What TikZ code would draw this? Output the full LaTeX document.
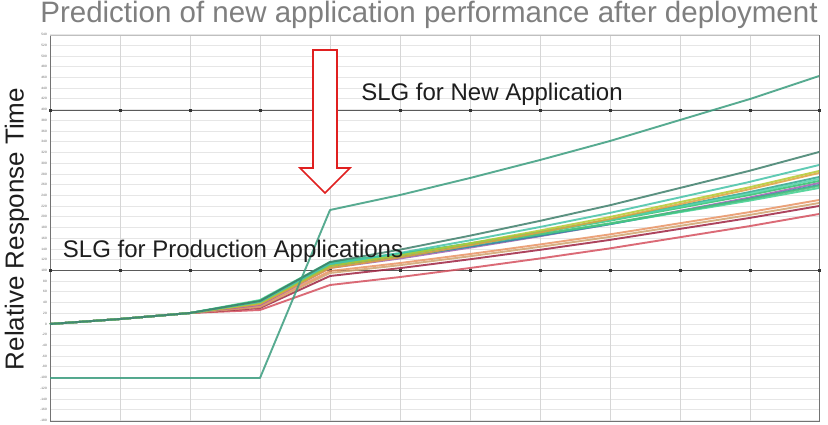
\documentclass[tikz,border=0pt]{standalone}
\usepackage{fontspec}
\setmainfont{Liberation Sans}
\definecolor{titlegray}{HTML}{7F7F7F}
\definecolor{gridc}{HTML}{E6E6E6}
\definecolor{vgridc}{HTML}{D6D6D6}
\definecolor{axisc}{HTML}{5A5A5A}
\definecolor{newapp}{HTML}{3A9D7E}
\definecolor{arrowred}{HTML}{E02020}
\definecolor{textc}{HTML}{1E1E1E}
\definecolor{sa}{HTML}{D5515F}
\definecolor{sb}{HTML}{9F2442}
\definecolor{sc}{HTML}{D1A36E}
\definecolor{sd}{HTML}{E99363}
\definecolor{se}{HTML}{A05FB0}
\definecolor{sf}{HTML}{2A8FA0}
\definecolor{sg}{HTML}{3FD08F}
\definecolor{sh}{HTML}{4CC27D}
\definecolor{si}{HTML}{2FBF6A}
\definecolor{sj}{HTML}{2FA58E}
\definecolor{sk}{HTML}{52D4A8}
\definecolor{sl}{HTML}{DFA23C}
\definecolor{sm}{HTML}{B5C92E}
\definecolor{sn}{HTML}{45C3A8}
\definecolor{so}{HTML}{3F7F6C}
\tikzset{
  gridh/.style={draw=gridc, line width=0.8pt},
  gridv/.style={draw=vgridc, line width=0.8pt},
  slgline/.style={draw=axisc, line width=1pt},
  slgdot/.style={fill=black!80, minimum size=3pt, inner sep=0pt, rectangle},
  ticklab/.style={font=\fontsize{3.2}{3.6}\selectfont, text=black!60, anchor=east, inner sep=0pt},
  serie/.style={line width=1.9pt, opacity=0.85, line join=round},
  bigtext/.style={font=\fontsize{24}{28}\selectfont, inner sep=0pt, text=textc},
}
\newcommand{\plotline}[4]{%
  \draw[serie, draw=#1] (50,324) -- (120,319) -- (190,313) -- (260,#2) -- (330,#3)
    \foreach \k/\c in {1/15,2/32,3/50,4/69,5/90,6/111,7/134} { -- ({330+69.857*\k},{#3-(#3-#4)*\c/134}) };
}
\begin{document}
\begin{tikzpicture}[x=1pt,y=-1pt]
\useasboundingbox (0,0) rectangle (828,424);
\fill[white] (0,0) rectangle (828,424);
% horizontal grid and tick labels
\foreach \v in {-180,-160,...,540} {
  \draw[gridh] (50,{324-0.536*\v}) -- (819,{324-0.536*\v});
  \node[ticklab] at (47,{324-0.536*\v}) {\v};
}
% vertical grid
\foreach \x in {120,190,...,750} { \draw[gridv] (\x,35) -- (\x,421); }
% frame
\draw[draw=black!55, line width=0.9pt] (50,35) -- (50,421) -- (819,421) -- (819,35);
\draw[draw=black!25, line width=0.9pt] (50,35) -- (819,35);
% SLG lines
\draw[slgline] (50,110) -- (819,110);
\draw[slgline] (50,270) -- (819,270);
\foreach \x [count=\i] in {50,120,...,750,819} {
  \node[slgdot] (da\i) at (\x,110) {};
  \node[slgdot] (db\i) at (\x,270) {};
}
% production application series
\plotline{sa}{310}{285}{214}
\plotline{sb}{308}{276}{206}
\plotline{sc}{307}{273}{203}
\plotline{sd}{306}{271}{200}
\plotline{se}{305}{268}{183}
\plotline{sf}{303}{266}{185}
\plotline{sg}{300}{262}{188}
\plotline{sh}{301}{263}{186}
\plotline{si}{301}{263}{181}
\plotline{sj}{302}{265}{177}
\plotline{sk}{302}{264}{179}
\plotline{sl}{304}{268}{173}
\plotline{sm}{303}{266}{171}
\plotline{sn}{302}{264}{165}
\plotline{so}{301}{262}{152}
% new application series
\draw[serie, draw=newapp] (50,378) -- (120,378) -- (190,378) -- (260,378) -- (330,210)
  -- (400,195) -- (470,178) -- (540,160) -- (610,141) -- (680,120) -- (750,99) -- (819,76);
% texts
\node[font=\fontsize{29.5}{33}\selectfont, text=titlegray, inner sep=0pt] (title) at (429,15) {Prediction of new application performance after deployment};
\node[font=\fontsize{26}{30}\selectfont, rotate=90, inner sep=0pt, text=textc] (ylab) at (17,229) {Relative Response Time};
\node[bigtext] (slgnew) at (492,94) {SLG for New Application};
\node[bigtext] (slgprod) at (233,251) {SLG for Production Applications};
% red arrow
\draw[draw=arrowred, line width=1.6pt, fill=white, line join=miter]
  (313,50) -- (337,50) -- (337,168) -- (350,168) -- (325,193) -- (300,168) -- (313,168) -- cycle;
\end{tikzpicture}
\end{document}
